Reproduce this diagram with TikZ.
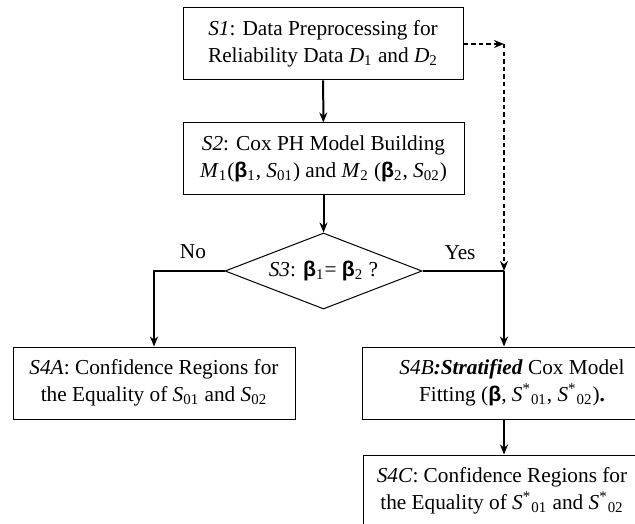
\documentclass[tikz,border=0pt]{standalone}
\usepackage{fontspec}
\setmainfont{Liberation Serif}
\newfontfamily\betafont{Liberation Sans}
\usetikzlibrary{shapes.geometric,arrows.meta}

\newcommand{\bb}{{\betafont\bfseries β}}
\newcommand{\vS}{\textit{S}}

\tikzset{
	stepbox/.style={draw, line width=0.5pt, inner sep=0pt, align=center,
		minimum height=36pt},
	decide/.style={draw, diamond, aspect=2.6, line width=0.5pt, inner sep=0pt,
		align=center, minimum width=98.5pt, minimum height=38pt},
	flow/.style={line width=1pt, -{Stealth[length=5pt,width=4pt]}},
	link/.style={line width=1pt},
	dflow/.style={line width=1pt, dash pattern=on 2.2pt off 1.6pt,
		-{Stealth[length=5pt,width=4pt]}}
}

\begin{document}
\begin{tikzpicture}[x=0.5pt, y=-0.5pt,
		every node/.style={font=\fontsize{10.65}{13.5}\selectfont}]
		\useasboundingbox (0,0) rectangle (635,523);
		\clip (0,0) rectangle (635,523);

		\node[stepbox, minimum width=140pt] (s1) at (323,44)
			{\textit{S1}: Data Preprocessing for\\Reliability Data \textit{D}\textsubscript{1} and \textit{D}\textsubscript{2}};
		\node[stepbox, minimum width=140.5pt] (s2) at (323.5,159)
			{\textit{S2}: Cox PH Model Building\\\textit{M}\textsubscript{1}(\bb\textsubscript{1}, \vS\textsubscript{01}) and \textit{M}\textsubscript{2} (\bb\textsubscript{2}, \vS\textsubscript{02})};
		\node[decide] (s3) at (323.5,271)
			{\textit{S3}: \bb\textsubscript{1}= \bb\textsubscript{2} ?};
		\node[stepbox, minimum width=141pt] (s4a) at (154,383)
			{\textit{S4A}: Confidence Regions for\\the Equality of \vS\textsubscript{01} and \vS\textsubscript{02}};
		\node[stepbox, minimum width=150pt] (s4b) at (512,383)
			{\textit{S4B}\textbf{\textit{:Stratified}} Cox Model\\Fitting (\bb, \vS\textsuperscript{*}\textsubscript{01}, \vS\textsuperscript{*}\textsubscript{02})\textbf{.}};
		\node[stepbox, minimum width=139pt] (s4c) at (502,491)
			{\textit{S4C}: Confidence Regions for\\the Equality of \vS\textsuperscript{*}\textsubscript{01} and \vS\textsuperscript{*}\textsubscript{02}};

		\node (no) at (193,252) {No};
		\node (yes) at (460,253) {Yes};
		\coordinate (join) at (504,271);

		\draw[flow] (s1) -- (s2);
		\draw[flow] (s2) -- (s3);
		\draw[flow] (s3.west) -| (s4a.north);
		\draw[link] (s3.east) -- (join);
		\draw[flow] (join) -- (join |- s4b.north);
		\draw[flow] (join |- s4b.south) -- (join |- s4c.north);
		\draw[dflow] (s1.east) -- (s1.east -| join);
		\draw[dflow] (s1.east -| join) -- (join);
	\end{tikzpicture}
\end{document}
